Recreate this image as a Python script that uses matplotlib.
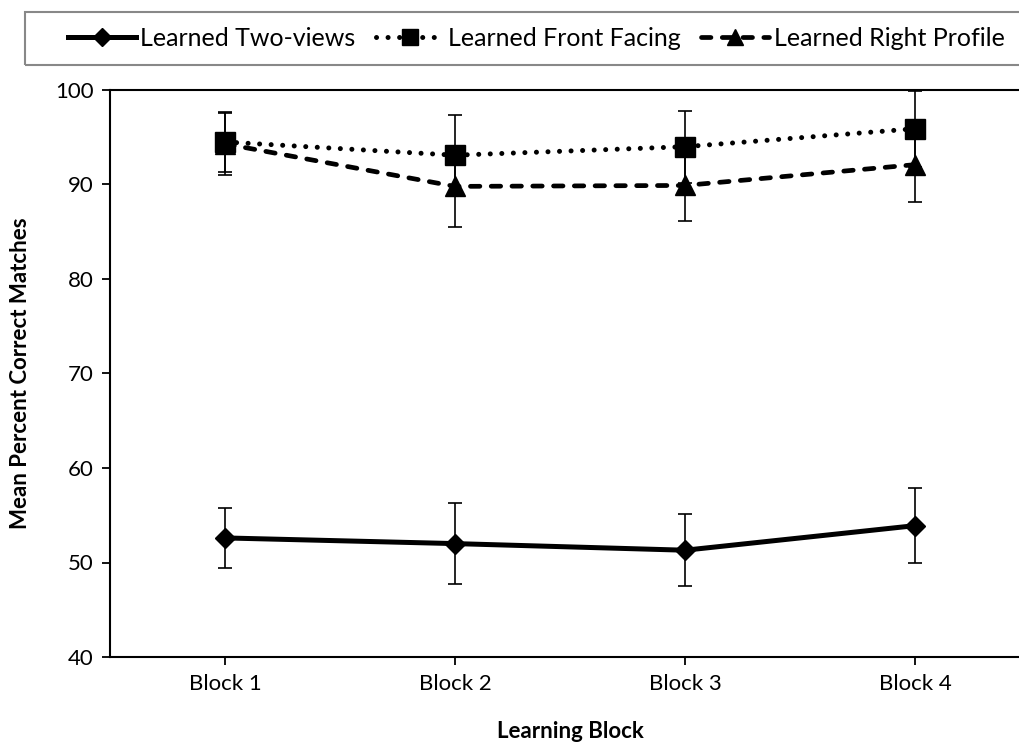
import numpy as np
import matplotlib.pyplot as plt
from matplotlib.lines import Line2D
from matplotlib.patches import Rectangle

plt.rcParams['font.family'] = ['Lato', 'DejaVu Sans']

blocks = ['Block 1', 'Block 2', 'Block 3', 'Block 4']
two_views = [52.6, 52.0, 51.3, 53.9]
two_views_err = [3.2, 4.3, 3.8, 4.0]
front_facing = [94.5, 93.1, 94.0, 95.9]
front_facing_err = [3.2, 4.3, 3.8, 4.0]
right_profile = [94.3, 89.8, 89.9, 92.1]
right_profile_err = [3.3, 4.3, 3.8, 4.0]
names = ['Learned Two-views', 'Learned Front Facing', 'Learned Right Profile']

x = np.arange(len(blocks))

fig = plt.figure(figsize=(10.19, 7.42), dpi=100)
ax = fig.add_axes([110/1019, 1-657/742, 920/1019, 567/742])

# 선 스타일
dotted = (0, (0.01, 2.3))
dashed = (0, (2.0, 2.4))
err_kw = dict(ecolor='black', elinewidth=1.2, capsize=4.7, capthick=1.2)

ax.errorbar(x, two_views, yerr=two_views_err, color='black', lw=3.6,
            marker='D', markersize=10, **err_kw)
ax.errorbar(x, front_facing, yerr=front_facing_err, color='black', lw=3.6,
            linestyle=dotted, dash_capstyle='round',
            marker='s', markersize=14, **err_kw)
ax.errorbar(x, right_profile, yerr=right_profile_err, color='black', lw=3.4,
            linestyle=dashed, dash_capstyle='round',
            marker='^', markersize=14, **err_kw)

ax.set_xlim(-0.5, 3.5)
ax.set_ylim(40, 100)
ax.set_yticks([40, 50, 60, 70, 80, 90, 100])
ax.set_xticks(x)
ax.set_xticklabels(blocks)
ax.tick_params(labelsize=16, length=6, width=1.3, pad=6)
for s in ax.spines.values():
    s.set_linewidth(1.5)

ax.set_ylabel('Mean Percent Correct Matches', fontsize=16, fontweight='bold', labelpad=17)
ax.set_xlabel('Learning Block', fontsize=16, fontweight='bold', labelpad=20)

# 범례 (테두리는 따로 그림)
fig.patches.append(Rectangle((25/1019, 1-65/742), 1.0, 53/742, transform=fig.transFigure,
                             fill=False, edgecolor='#888888', lw=1.5))
handles = [
    Line2D([], [], color='black', lw=3.6, marker='D', markersize=9),
    Line2D([], [], color='black', lw=3.6, linestyle=dotted, dash_capstyle='round',
           marker='s', markersize=12),
    Line2D([], [], color='black', lw=3.4, linestyle=dashed, dash_capstyle='round',
           marker='^', markersize=12),
]
fig.legend(handles=handles, labels=names, loc='center left', ncol=3,
           bbox_to_anchor=(68/1019, 1-38.5/742), frameon=False,
           fontsize=18, handlelength=2.7, handletextpad=0.2, columnspacing=0.8,
           borderpad=0, borderaxespad=0)

fig.savefig('out.png', dpi=100)
